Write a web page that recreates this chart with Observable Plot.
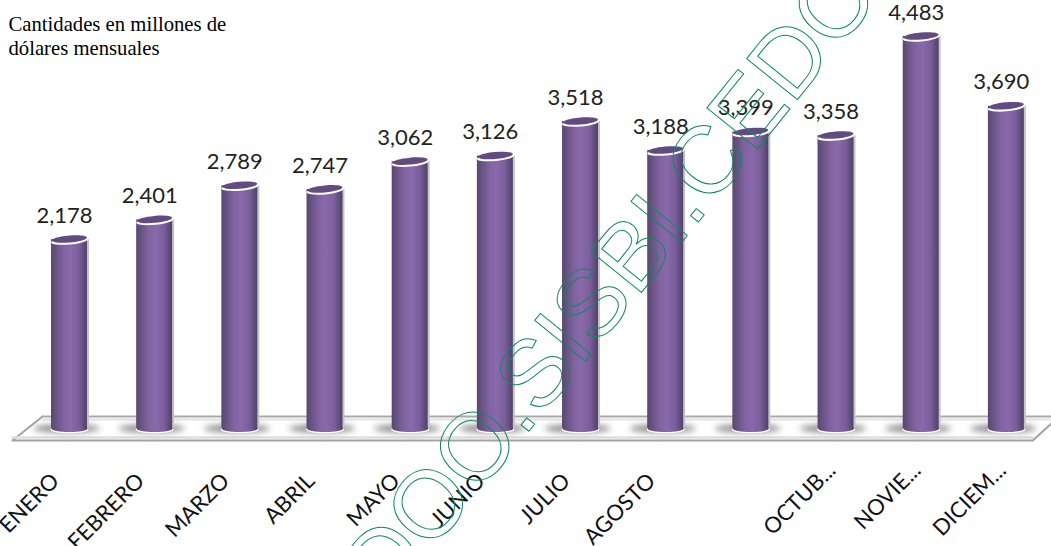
<!DOCTYPE html>
<html lang="es">
<head>
<meta charset="utf-8">
<script src="https://cdn.jsdelivr.net/npm/d3@7"></script>
<script src="https://cdn.jsdelivr.net/npm/@observablehq/plot@0.6"></script>
<style>html,body{margin:0;background:#fff;overflow:hidden}</style>
</head>
<body>
<div id="chart"></div>
<script>
const months = ["ENERO","FEBRERO","MARZO","ABRIL","MAYO","JUNIO","JULIO","AGOSTO","SEPTIEMBRE","OCTUBRE","NOVIEMBRE","DICIEMBRE"];
const tickLabels = ["ENERO","FEBRERO","MARZO","ABRIL","MAYO","JUNIO","JULIO","AGOSTO","","OCTUB...","NOVIE...","DICIEM..."];
const values = [2178,2401,2789,2747,3062,3126,3518,3188,3399,3358,4483,3690];
const titleText = "Cantidades en millones de\ndólares mensuales";
const watermarkText = "DOO.SISBI.CEDO";
const floorBackX = [-0.317, 11.53];
const floorBackY = [170, 170];
const floorFrontX = [-0.317, -0.669, 11.31, 11.53];
const floorFrontY = [170, -102, -102, 91];

const rows = values.map((value, i) => ({i, value, month: months[i], tick: tickLabels[i]}));
const fullTicks = rows.filter(d => d.tick && !d.tick.endsWith("..."));
const cutTicks = rows.filter(d => d.tick.endsWith("..."));
const base = 35, half = 0.211;

function ellipse(k, tilt) {
  const c = Math.cos(tilt * Math.PI / 180), s = Math.sin(tilt * Math.PI / 180), m = 0.5523;
  return {draw(ctx, size) {
    const a = Math.sqrt(size / Math.PI), b = a * k;
    const p = (x, y) => [x * a * c - y * b * s, x * a * s + y * b * c];
    ctx.moveTo(...p(1, 0));
    ctx.bezierCurveTo(...p(1, m), ...p(m, 1), ...p(0, 1));
    ctx.bezierCurveTo(...p(-m, 1), ...p(-1, m), ...p(-1, 0));
    ctx.bezierCurveTo(...p(-1, -m), ...p(-m, -1), ...p(0, -1));
    ctx.bezierCurveTo(...p(m, -1), ...p(1, -m), ...p(1, 0));
    ctx.closePath();
  }};
}
const cap = ellipse(0.2, -5), foot = ellipse(0.2, 0), shade = ellipse(0.12, 0);

function defs() {
  const d = d3.create("svg:defs");
  const g = d.append("linearGradient").attr("id", "cyl");
  [[0,"#574673"],[0.12,"#66527f"],[0.35,"#8163a2"],[0.55,"#8869aa"],[0.78,"#7a5e9a"],[1,"#4f406b"]]
    .forEach(([o,c]) => g.append("stop").attr("offset", o).attr("stop-color", c));
  return d.node();
}

const chart = Plot.plot({
  width: 1051, height: 546,
  marginTop: 0, marginRight: 0, marginBottom: 0, marginLeft: 0,
  style: {background: "#fff"},
  x: {type: "linear", domain: [-0.81, 11.53], axis: null},
  y: {domain: [-1305, 4892], axis: null},
  marks: [
    defs,
    Plot.line(floorBackX.map((x, i) => ({x, y: floorBackY[i]})), {x: "x", y: "y", stroke: "#a9a9a9", strokeWidth: 2, curve: "linear"}),
    Plot.line(floorBackX.map((x, i) => ({x, y: floorBackY[i]})), {x: "x", y: "y", dy: 3, stroke: "#e2e2e2", strokeWidth: 2}),
    Plot.line(floorFrontX.map((x, i) => ({x, y: floorFrontY[i]})), {x: "x", y: "y", stroke: "#a3a3a3", strokeWidth: 2}),
    Plot.line(floorFrontX.slice(1, 3).map((x, i) => ({x, y: floorFrontY[i + 1]})), {x: "x", y: "y", dy: -3, stroke: "#dedede", strokeWidth: 2.5}),
    Plot.dot(rows, {x: "i", y: base, r: 33, dx: -3, symbol: shade, fill: "#868686", imageFilter: "blur(3px)"}),
    Plot.rect(rows, {x1: d => d.i - half, x2: d => d.i + half, y1: base, y2: "value", dx: 2, fill: "#c4c4c4"}),
    Plot.dot(rows, {x: "i", y: base, r: 19, dy: 1, symbol: foot, fill: "#fff"}),
    Plot.dot(rows, {x: "i", y: base, r: 18, symbol: foot, fill: "url(#cyl)"}),
    Plot.rect(rows, {x1: d => d.i - half, x2: d => d.i + half, y1: base, y2: "value", fill: "url(#cyl)"}),
    Plot.dot(rows, {x: "i", y: "value", r: 18.5, dy: 1.2, symbol: cap, fill: "#fff"}),
    Plot.dot(rows, {x: "i", y: "value", r: 17.5, dy: -0.6, symbol: cap, fill: "#634b81"}),
    Plot.text(rows, {x: "i", y: "value", text: d => d3.format(",")(d.value), dx: -5, dy: -24, fontFamily: "Lato", fontSize: 22, fill: "#222"}),
    Plot.text(fullTicks, {x: "i", y: -520, text: "tick", rotate: -45, textAnchor: "end", lineAnchor: "middle", dx: -14, fontFamily: "Lato", fontSize: 22, fill: "#111"}),
    Plot.text(cutTicks, {x: "i", y: -400, text: "tick", rotate: -45, textAnchor: "end", lineAnchor: "middle", dx: -4, fontFamily: "Lato", fontSize: 22, fill: "#111"}),
    Plot.text([titleText], {text: d => d, frameAnchor: "top-left", dx: 8, dy: 13, lineAnchor: "top", lineHeight: 1.17, fontFamily: "Liberation Serif", fontSize: 20.7, fill: "#000", textAnchor: "start"}),
    Plot.text([watermarkText], {text: d => d, x: 6.36, y: 1703, rotate: -51, textAnchor: "middle", lineAnchor: "middle", fontFamily: "Liberation Sans", fontSize: 95, fill: "none", stroke: "#0f8a5f", strokeWidth: 1})
  ]
});
document.getElementById("chart").append(chart);
</script>
</body>
</html>
